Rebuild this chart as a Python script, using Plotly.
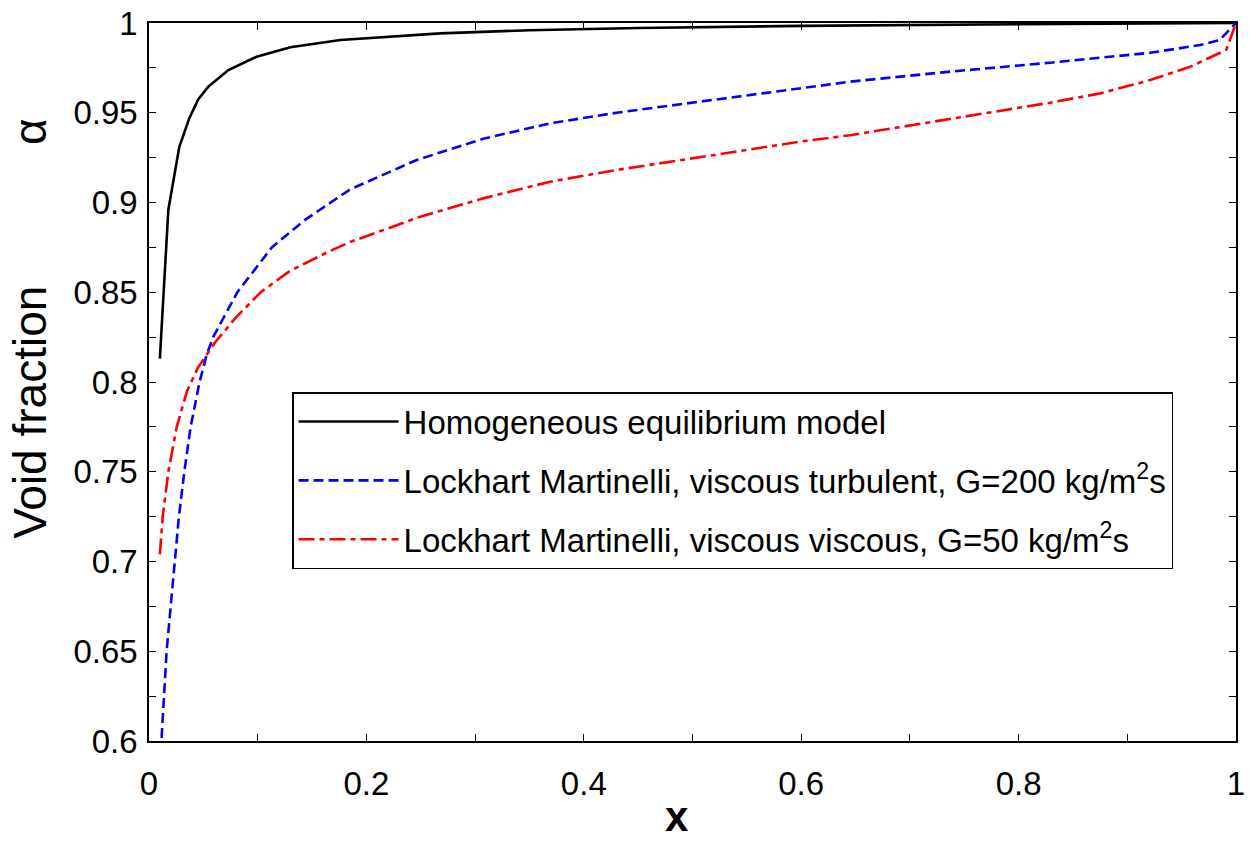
import plotly.graph_objects as go

# ---- data ----
x_hem = [0.01, 0.0178, 0.0279, 0.0371, 0.0454, 0.0546, 0.073, 0.099, 0.13, 0.176, 0.268, 0.35, 0.45, 0.6, 0.8, 1.0]
a_hem = [0.813, 0.896, 0.931, 0.947, 0.9575, 0.9645, 0.9738, 0.9812, 0.9865, 0.9905, 0.9942, 0.996, 0.9972, 0.9984, 0.9993, 1.0]

x_turb = [0.01, 0.0116, 0.0138, 0.0162, 0.0199, 0.0235, 0.0275, 0.0325, 0.0383, 0.0465, 0.053, 0.059, 0.0813, 0.113,
          0.1435, 0.185, 0.2463, 0.3075, 0.369, 0.43, 0.4915, 0.553, 0.645, 0.737, 0.829, 0.921, 0.967, 0.985, 1.0]
a_turb = [0.585, 0.60, 0.625, 0.65, 0.675, 0.70, 0.725, 0.75, 0.775, 0.80, 0.815, 0.825, 0.85, 0.875,
          0.8903, 0.9073, 0.9237, 0.9355, 0.9441, 0.950, 0.9549, 0.960, 0.9673, 0.9729, 0.9779, 0.9834, 0.9877, 0.9905, 1.0]

x_visc = [0.01, 0.0126, 0.0178, 0.0255, 0.035, 0.045, 0.0607, 0.08, 0.1027, 0.13, 0.1665, 0.185, 0.231, 0.2463,
          0.3075, 0.369, 0.43, 0.4915, 0.553, 0.599, 0.645, 0.737, 0.829, 0.875, 0.921, 0.958, 0.981, 0.991, 1.0]
a_visc = [0.704, 0.725, 0.75, 0.775, 0.795, 0.808, 0.822, 0.836, 0.85, 0.862, 0.873, 0.878, 0.888, 0.8915,
          0.9023, 0.9116, 0.9181, 0.9237, 0.9296, 0.9339, 0.9375, 0.9465, 0.9556, 0.9608, 0.9682, 0.9757, 0.9822, 0.985, 1.0]

names = ["Homogeneous equilibrium model",
         "Lockhart Martinelli, viscous turbulent, G=200 kg/m<sup>2</sup>s",
         "Lockhart Martinelli, viscous viscous, G=50 kg/m<sup>2</sup>s"]

FONT = "Arial, Liberation Sans, sans-serif"
NB = "\u00a0"

fig = go.Figure()
fig.add_trace(go.Scatter(x=x_hem, y=a_hem, mode="lines", name=names[0], legendgroup="a",
                         line=dict(color="black", width=2.6)))
fig.add_trace(go.Scatter(x=x_turb, y=a_turb, mode="lines", name=names[1], legendgroup="b",
                         line=dict(color="#0000ff", width=2.6, dash="10px,5px")))
fig.add_trace(go.Scatter(x=x_visc, y=a_visc, mode="lines", name=names[2], legendgroup="c",
                         line=dict(color="#ff0000", width=2.6, dash="16px,5px,5px,5px")))

axis_common = dict(showline=True, linecolor="black", linewidth=1.5, mirror="ticks",
                   ticks="inside", ticklen=7, tickwidth=1.2, tickcolor="black",
                   showgrid=False, zeroline=False, automargin=False,
                   tickfont=dict(family=FONT, size=33, color="black"))

fig.update_xaxes(range=[0, 1], tickvals=[0, 0.2, 0.4, 0.6, 0.8, 1.0],
                 ticktext=["0", "0.2", "0.4", "0.6", "0.8", "1"],
                 minor=dict(dtick=0.1, ticks="inside", ticklen=7, tickcolor="black", tickwidth=1.2, showgrid=False),
                 ticklabelstandoff=13,
                 **axis_common)
fig.update_yaxes(range=[0.6, 1], tickvals=[0.6, 0.65, 0.7, 0.75, 0.8, 0.85, 0.9, 0.95, 1.0],
                 ticktext=["0.6", "0.65", "0.7", "0.75", "0.8", "0.85", "0.9", "0.95", "1"],
                 minor=dict(dtick=0.025, ticks="inside", ticklen=7, tickcolor="black", tickwidth=1.2, showgrid=False),
                 ticklabelstandoff=3,
                 **axis_common)

# axis labels (placed as annotations to match the reference offsets)
fig.add_annotation(text="Void fraction" + NB * 11 + "α", textangle=-90,
                   xref="paper", yref="paper", x=-0.1095, y=0.574,
                   xanchor="center", yanchor="middle", showarrow=False,
                   font=dict(family=FONT, size=46, color="black"))
fig.add_annotation(text="<b>x</b>",
                   xref="paper", yref="paper", x=0.4857, y=-0.1058,
                   xanchor="center", yanchor="middle", showarrow=False,
                   font=dict(family=FONT, size=42, color="black"))

fig.update_layout(
    width=1250, height=846,
    margin=dict(l=149, r=14, t=23, b=105, autoexpand=False),
    plot_bgcolor="white", paper_bgcolor="white",
    font=dict(family=FONT, color="black"),
    legend=dict(x=0.1316, y=0.486, xanchor="left", yanchor="top",
                bgcolor="white", bordercolor="black", borderwidth=1.5,
                font=dict(family=FONT, size=33, color="black"),
                itemwidth=100, tracegroupgap=13),
    showlegend=True,
)

fig.write_html("out.html")
